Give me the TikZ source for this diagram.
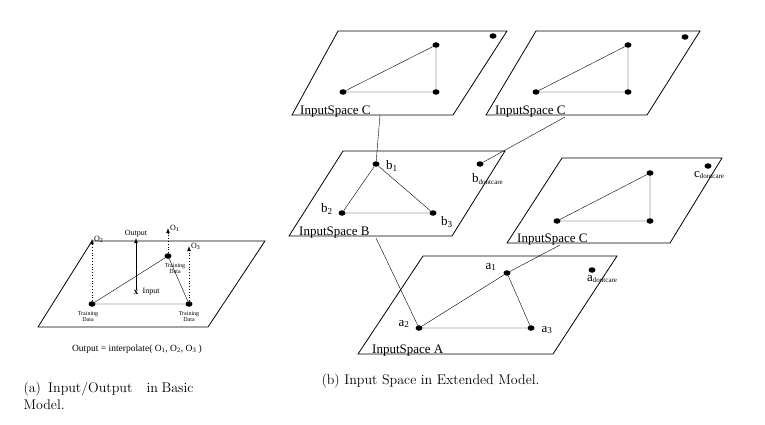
\documentclass[tikz,border=0pt]{standalone}
\usepackage{fontspec}
\newfontfamily\tms{Liberation Serif}
\usetikzlibrary{shapes.geometric,positioning}
\tikzset{
  dot/.style={ellipse,fill=black,inner sep=0pt,minimum width=7pt,minimum height=5.5pt},
  plane/.style={line width=0.8pt},
  lbl/.style={font=\tms\fontsize{13}{13}\selectfont,inner sep=0pt},
  tiny/.style={font=\tms\fontsize{6}{6}\selectfont,inner sep=0pt,align=center},
  small/.style={font=\tms\fontsize{8}{8}\selectfont,inner sep=0pt},
}
\begin{document}
\begin{tikzpicture}[x=1pt,y=-1pt]
    \useasboundingbox (0,0) rectangle (765,425);
    % (a) basic model
    \draw[plane] (92,241)--(265,241)--(208,327)--(38,327)--cycle;
    \node[dot] (t1) at (168,256) {};
    \node[dot] (t2) at (92,304) {};
    \node[dot] (t3) at (189,304) {};
    \draw (t2)--(t1)--(t3)--(t2);
    \node[inner sep=0pt] (in) at (136,292) {\tms\bfseries\fontsize{9}{9}\selectfont x};
    \node[small,right=4pt of in] {Input};
    \coordinate (o1) at (168,228);
    \coordinate (o2) at (92,239);
    \coordinate (o3) at (189,246);
    \coordinate (out) at (136,238);
    \draw[-latex,line width=0.8pt] (in)--(out);
    \draw[-latex,dotted,thick] (t1)--(o1);
    \draw[-latex,dotted,thick] (t2)--(o2);
    \draw[-latex,dotted,thick] (t3)--(o3);
    \node[small,above=1pt of out] {Output};
    \node[small,right=2pt of o1] {O\textsubscript{1}};
    \node[small,right=2pt of o2] {O\textsubscript{2}};
    \node[small,right=2pt of o3] {O\textsubscript{3}};
    \node[tiny] at (175,269) {Training\\Data};
    \node[tiny] at (88,317) {Training\\Data};
    \node[tiny] at (189,317) {Training\\Data};
    \node[font=\tms\fontsize{9.5}{9.5}\selectfont] at (137,349) {Output = interpolate( O\textsubscript{1}, O\textsubscript{2}, O\textsubscript{3} )};
    \node[anchor=west,font=\fontsize{14}{17}\selectfont,text width=170pt,align=justify] at (20,396) {(a)\ \ Input/Output\ \ \ \ in Basic Model.};
    % (b) extended model
    \draw[plane] (338,31)--(507,31)--(453,115)--(292,115)--cycle;
    \node[dot] (c12) at (343,92) {};
    \node[dot] (c13) at (436,92) {};
    \node[dot] (c11) at (436,45) {};
    \node[dot] (c1d) at (493,36) {};
    \draw (c12)--(c11)--(c13)--(c12);
    \node[lbl,anchor=south west] (lc1) at (300,117) {InputSpace C};
    \draw[plane] (536,31)--(700,31)--(647,115)--(486,115)--cycle;
    \node[dot] (c22) at (536,92) {};
    \node[dot] (c23) at (628,92) {};
    \node[dot] (c21) at (628,45) {};
    \node[dot] (c2d) at (685,37) {};
    \draw (c22)--(c21)--(c23)--(c22);
    \node[lbl,anchor=south west] (lc2) at (495,117) {InputSpace C};
    \draw[plane] (343,151)--(505,151)--(452,236)--(289,236)--cycle;
    \node[dot] (b1) at (376,164) {};
    \node[dot] (b2) at (342,213) {};
    \node[dot] (b3) at (433,213) {};
    \node[dot] (bd) at (480,164) {};
    \draw (b1)--(b2)--(b3)--(b1);
    \node[lbl,anchor=south west] (lb) at (299,238) {InputSpace B};
    \node[lbl] at (392,166) {b\textsubscript{1}};
    \node[lbl] at (327,209) {b\textsubscript{2}};
    \node[lbl] at (447,222) {b\textsubscript{3}};
    \node[lbl,anchor=west] at (472,179) {b\textsubscript{\fontsize{7}{7}\selectfont dontcare}};
    \draw[plane] (562,158)--(722,158)--(670,243)--(507,243)--cycle;
    \node[dot] (c32) at (557,221) {};
    \node[dot] (c33) at (650,221) {};
    \node[dot] (c31) at (650,173) {};
    \node[dot] (c3d) at (708,166) {};
    \draw (c32)--(c31)--(c33)--(c32);
    \node[lbl,anchor=south west] (lc3) at (517,245) {InputSpace C};
    \node[lbl,anchor=west] at (694,175) {c\textsubscript{\fontsize{7}{7}\selectfont dontcare}};
    \draw[plane] (423,256)--(617,256)--(553,354)--(358,354)--cycle;
    \node[dot] (a1) at (507,273) {};
    \node[dot] (a2) at (419,328) {};
    \node[dot] (a3) at (531,328) {};
    \node[dot] (ad) at (592,270) {};
    \draw (a1)--(a2)--(a3)--(a1);
    \node[lbl,anchor=south west] (la) at (372,356) {InputSpace A};
    \node[lbl] at (491,267) {a\textsubscript{1}};
    \node[lbl] at (404,324) {a\textsubscript{2}};
    \node[lbl] at (547,330) {a\textsubscript{3}};
    \node[lbl,anchor=west] at (587,279) {a\textsubscript{\fontsize{7}{7}\selectfont dontcare}};
    % links between spaces
    \coordinate (k1) at (380,115);
    \coordinate (k2) at (565,117);
    \coordinate (k3) at (376,238);
    \coordinate (k4) at (560,245);
    \draw (k1)--(b1);
    \draw (k2)--(bd);
    \draw (k3)--(a2);
    \draw (k4)--(a1);
    \node[anchor=west,font=\fontsize{14}{17}\selectfont] at (318,381) {(b) Input Space in Extended Model.};
\end{tikzpicture}
\end{document}
